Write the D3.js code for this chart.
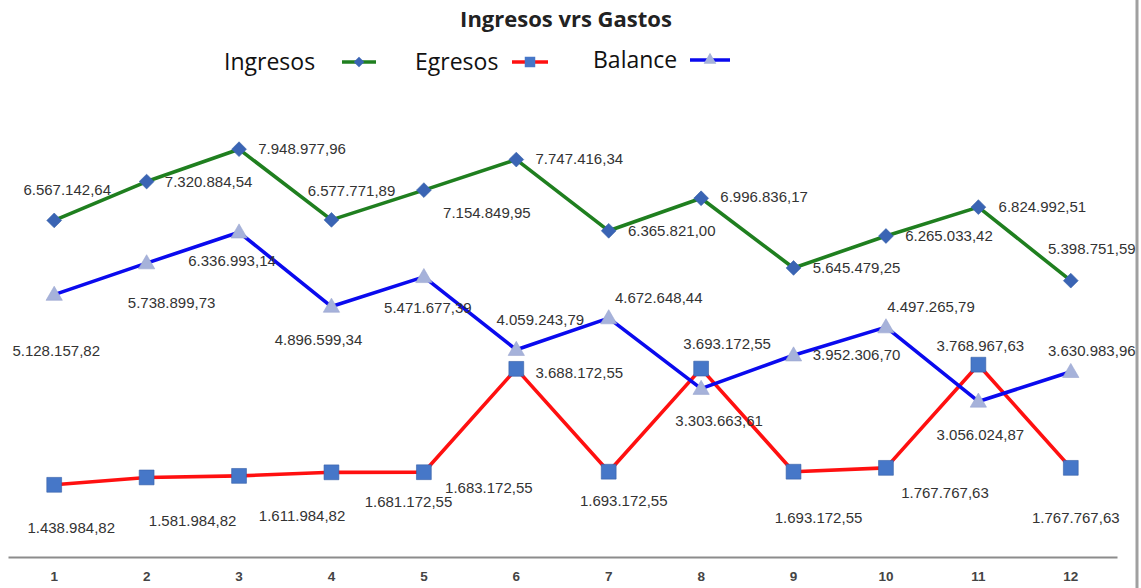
<!DOCTYPE html>
<html>
<head>
<meta charset="utf-8">
<script src="https://cdn.jsdelivr.net/npm/d3@7"></script>
<style>
    body { margin: 0; background: #fff; }
    svg { display: block; }
    text { font-family: "Liberation Sans", Arial, sans-serif; }
    .val { font-size: 15px; fill: #333; }
    .tick-lbl { font-size: 13.5px; font-weight: bold; fill: #444; }
</style>
</head>
<body>
<div id="chart"></div>
<script>
// data
const months = [1, 2, 3, 4, 5, 6, 7, 8, 9, 10, 11, 12];
const ingresos = [6567142.64, 7320884.54, 7948977.96, 6577771.89, 7154849.95, 7747416.34,
    6365821.00, 6996836.17, 5645479.25, 6265033.42, 6824992.51, 5398751.59];
const egresos = [1438984.82, 1581984.82, 1611984.82, 1681172.55, 1683172.55, 3688172.55,
    1693172.55, 3693172.55, 1693172.55, 1767767.63, 3768967.63, 1767767.63];
const balance = [5128157.82, 5738899.73, 6336993.14, 4896599.34, 5471677.39, 4059243.79,
    4672648.44, 3303663.61, 3952306.70, 4497265.79, 3056024.87, 3630983.96];

// label offsets (label centre relative to its point), as placed in the original
const ingresosLbl = [[13, -31], [62, 0], [63, 0], [20, -29], [63, 23], [63, -1],
    [63, 0], [63, -2], [63, 0], [63, 0], [64, 0], [21, -32]];
const egresosLbl = [[17, 43], [46, 43], [63, 40], [77, 29], [65, 16], [63, 4],
    [15, 29], [26, -25], [25, 46], [59, 25], [2, -19], [5, 50]];
const balanceLbl = [[2, 56], [25, 40], [-7, 28], [-13, 33], [4, 31], [24, -30],
    [50, -20], [18, 32], [63, 0], [45, -20], [2, 33], [21, -21]];

const width = 1141, height = 588;
const fmt = d3.formatLocale({ decimal: ",", thousands: ".", grouping: [3] }).format(",.2f");

const svg = d3.select("#chart").append("svg")
    .attr("width", width)
    .attr("height", height);

// scales
const x = d3.scaleBand().domain(months).range([8, 1117]);
const cx = d => x(d) + x.bandwidth() / 2;
const y = d3.scaleLinear().domain([0, 9000000]).range([559, 95]);

// right frame edge
svg.append("line")
    .attr("x1", 1137).attr("x2", 1137).attr("y1", 0).attr("y2", height)
    .attr("stroke", "#a0a0a0").attr("stroke-width", 3);

// title
svg.append("text")
    .attr("x", 566).attr("y", 27)
    .attr("text-anchor", "middle")
    .style("font-size", "22px").style("font-weight", "bold").style("fill", "#222")
    .style("font-family", "'Open Sans', sans-serif")
    .text("Ingresos vrs Gastos");

// x axis
const xAxis = svg.append("g")
    .attr("transform", "translate(0,557)")
    .call(d3.axisBottom(x).tickSize(0).tickSizeOuter(0).tickPadding(14));
xAxis.select(".domain").attr("stroke", "#8c8c8c").attr("stroke-width", 2);
xAxis.selectAll("text").attr("class", "tick-lbl").attr("font-family", null).attr("font-size", null).attr("fill", null);

const series = [
    { name: "Ingresos", values: ingresos, lbl: ingresosLbl, color: "#1f7f1f", marker: "diamond", fill: "#3a64b4" },
    { name: "Egresos", values: egresos, lbl: egresosLbl, color: "#ff1010", marker: "square", fill: "#4677c8" },
    { name: "Balance", values: balance, lbl: balanceLbl, color: "#0a0aee", marker: "triangle", fill: "#a6b2da" }
];

const symbolFor = {
    diamond: d3.symbol().type(d3.symbolDiamond2).size(140),
    square: d3.symbol().type(d3.symbolSquare).size(220),
    triangle: d3.symbol().type(d3.symbolTriangle).size(115)
};

const line = d3.line().x((d, i) => cx(months[i])).y(d => y(d));

// lines (egresos under balance, ingresos on top)
[series[1], series[2], series[0]].forEach(s => {
    svg.append("path")
        .datum(s.values)
        .attr("fill", "none")
        .attr("stroke", s.color)
        .attr("stroke-width", 3.6)
        .attr("stroke-linejoin", "round")
        .attr("d", line);
});

// markers
[series[2], series[1], series[0]].forEach(s => {
    svg.append("g").selectAll("path")
        .data(s.values)
        .join("path")
        .attr("transform", (d, i) => `translate(${cx(months[i])},${y(d) + (s.marker === "triangle" ? 1 : 0)})`)
        .attr("d", symbolFor[s.marker])
        .attr("fill", s.fill)
        .attr("stroke", s.marker === "triangle" ? "#9aa6d0" : "#3560a8")
        .attr("stroke-width", 0.6);
});

// value labels
series.forEach(s => {
    svg.append("g").selectAll("text")
        .data(s.values)
        .join("text")
        .attr("class", "val")
        .attr("x", (d, i) => cx(months[i]) + s.lbl[i][0])
        .attr("y", (d, i) => y(d) + s.lbl[i][1])
        .attr("dy", "0.35em")
        .attr("text-anchor", "middle")
        .text(d => fmt(d));
});

// legend
const legend = [
    { s: series[0], tx: 224, ty: 70, lx: 342, lw: 34 },
    { s: series[1], tx: 415, ty: 70, lx: 512, lw: 36 },
    { s: series[2], tx: 593, ty: 68, lx: 690, lw: 40 }
];
legend.forEach(l => {
    svg.append("text")
        .attr("x", l.tx).attr("y", l.ty)
        .style("font-size", "23px").style("fill", "#111")
        .style("font-family", "'Open Sans', sans-serif")
        .text(l.s.name);
    const ly = l.ty - 8;
    svg.append("line")
        .attr("x1", l.lx).attr("x2", l.lx + l.lw).attr("y1", ly).attr("y2", ly)
        .attr("stroke", l.s.color).attr("stroke-width", 3.5);
    svg.append("path")
        .attr("transform", `translate(${l.lx + l.lw / 2},${ly})`)
        .attr("d", d3.symbol().type(
            l.s.marker === "diamond" ? d3.symbolDiamond2 :
            l.s.marker === "square" ? d3.symbolSquare : d3.symbolTriangle).size(l.s.marker === "square" ? 110 : 70))
        .attr("fill", l.s.fill);
});
</script>
</body>
</html>
